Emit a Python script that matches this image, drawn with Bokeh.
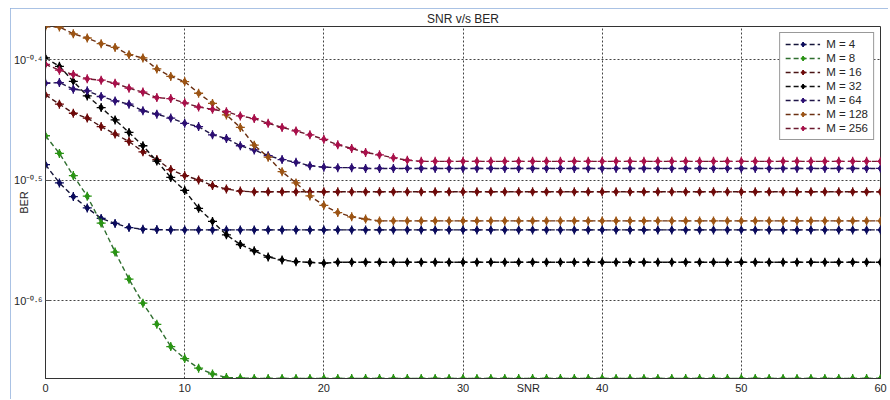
from bokeh.plotting import figure
from bokeh.models import Range1d, FixedTicker, Legend, LegendItem
from bokeh.embed import file_html
from bokeh.resources import INLINE

# ---------------- data ----------------
snr = list(range(0, 61))

ber_m4 = [0.3257, 0.3146, 0.3065, 0.2999, 0.2940, 0.2912, 0.2889, 0.2880, 0.2878, 0.2876,
          0.2876, 0.2876, 0.2876, 0.2876, 0.2876, 0.2876, 0.2876, 0.2876, 0.2876, 0.2876,
          0.2876, 0.2876, 0.2876, 0.2876, 0.2876, 0.2876, 0.2876, 0.2876, 0.2876, 0.2876,
          0.2876, 0.2876, 0.2876, 0.2876, 0.2876, 0.2876, 0.2876, 0.2876, 0.2876, 0.2876,
          0.2876, 0.2876, 0.2876, 0.2876, 0.2876, 0.2876, 0.2876, 0.2876, 0.2876, 0.2876,
          0.2876, 0.2876, 0.2876, 0.2876, 0.2876, 0.2876, 0.2876, 0.2876, 0.2876, 0.2876,
          0.2876]
ber_m8 = [0.3442, 0.3328, 0.3190, 0.3067, 0.2914, 0.2757, 0.2618, 0.2501, 0.2402, 0.2302,
          0.2250, 0.2209, 0.2185, 0.2170, 0.2168, 0.2166, 0.2166, 0.2166, 0.2166, 0.2166,
          0.2166, 0.2166, 0.2166, 0.2166, 0.2166, 0.2166, 0.2166, 0.2166, 0.2166, 0.2166,
          0.2166, 0.2166, 0.2166, 0.2166, 0.2166, 0.2166, 0.2166, 0.2166, 0.2166, 0.2166,
          0.2166, 0.2166, 0.2166, 0.2166, 0.2166, 0.2166, 0.2166, 0.2166, 0.2166, 0.2166,
          0.2166, 0.2166, 0.2166, 0.2166, 0.2166, 0.2166, 0.2166, 0.2166, 0.2166, 0.2166,
          0.2166]
ber_m16 = [0.3721, 0.3656, 0.3593, 0.3560, 0.3503, 0.3453, 0.3405, 0.3338, 0.3289, 0.3227,
           0.3190, 0.3164, 0.3130, 0.3110, 0.3097, 0.3093, 0.3093, 0.3093, 0.3093, 0.3093,
           0.3093, 0.3093, 0.3093, 0.3093, 0.3093, 0.3093, 0.3093, 0.3093, 0.3093, 0.3093,
           0.3093, 0.3093, 0.3093, 0.3093, 0.3093, 0.3093, 0.3093, 0.3093, 0.3093, 0.3093,
           0.3093, 0.3093, 0.3093, 0.3093, 0.3093, 0.3093, 0.3093, 0.3093, 0.3093, 0.3093,
           0.3093, 0.3093, 0.3093, 0.3093, 0.3093, 0.3093, 0.3093, 0.3093, 0.3093, 0.3093,
           0.3093]
ber_m32 = [0.3993, 0.3930, 0.3819, 0.3714, 0.3632, 0.3548, 0.3464, 0.3377, 0.3280, 0.3179,
           0.3101, 0.2997, 0.2923, 0.2849, 0.2797, 0.2764, 0.2731, 0.2716, 0.2707, 0.2703,
           0.2699, 0.2704, 0.2704, 0.2704, 0.2704, 0.2704, 0.2704, 0.2704, 0.2704, 0.2704,
           0.2704, 0.2704, 0.2704, 0.2704, 0.2704, 0.2704, 0.2704, 0.2704, 0.2704, 0.2704,
           0.2704, 0.2704, 0.2704, 0.2704, 0.2704, 0.2704, 0.2704, 0.2704, 0.2704, 0.2704,
           0.2704, 0.2704, 0.2704, 0.2704, 0.2704, 0.2704, 0.2704, 0.2704, 0.2704, 0.2704,
           0.2704]
ber_m64 = [0.3805, 0.3810, 0.3762, 0.3750, 0.3710, 0.3679, 0.3656, 0.3610, 0.3587, 0.3560,
           0.3525, 0.3503, 0.3448, 0.3424, 0.3377, 0.3350, 0.3314, 0.3289, 0.3272, 0.3251,
           0.3242, 0.3239, 0.3239, 0.3234, 0.3234, 0.3234, 0.3234, 0.3234, 0.3234, 0.3234,
           0.3234, 0.3234, 0.3234, 0.3234, 0.3234, 0.3234, 0.3234, 0.3234, 0.3234, 0.3234,
           0.3234, 0.3234, 0.3234, 0.3234, 0.3234, 0.3234, 0.3234, 0.3234, 0.3234, 0.3234,
           0.3234, 0.3234, 0.3234, 0.3234, 0.3234, 0.3234, 0.3234, 0.3234, 0.3234, 0.3234,
           0.3234]
ber_m128 = [0.4240, 0.4236, 0.4181, 0.4148, 0.4103, 0.4074, 0.4018, 0.3993, 0.3910, 0.3855,
            0.3817, 0.3733, 0.3661, 0.3582, 0.3497, 0.3381, 0.3304, 0.3214, 0.3146, 0.3069,
            0.3014, 0.2973, 0.2949, 0.2936, 0.2926, 0.2926, 0.2926, 0.2926, 0.2926, 0.2926,
            0.2926, 0.2926, 0.2926, 0.2926, 0.2926, 0.2926, 0.2926, 0.2926, 0.2926, 0.2926,
            0.2926, 0.2926, 0.2926, 0.2926, 0.2926, 0.2926, 0.2926, 0.2926, 0.2926, 0.2926,
            0.2926, 0.2926, 0.2926, 0.2926, 0.2926, 0.2926, 0.2926, 0.2926, 0.2926, 0.2926,
            0.2926]
ber_m256 = [0.3944, 0.3901, 0.3869, 0.3837, 0.3827, 0.3805, 0.3769, 0.3741, 0.3702, 0.3695,
            0.3665, 0.3636, 0.3620, 0.3604, 0.3575, 0.3557, 0.3525, 0.3497, 0.3474, 0.3448,
            0.3419, 0.3383, 0.3360, 0.3334, 0.3319, 0.3300, 0.3285, 0.3278, 0.3278, 0.3278,
            0.3278, 0.3278, 0.3278, 0.3278, 0.3278, 0.3278, 0.3278, 0.3278, 0.3278, 0.3278,
            0.3278, 0.3278, 0.3278, 0.3278, 0.3278, 0.3278, 0.3278, 0.3278, 0.3278, 0.3278,
            0.3278, 0.3278, 0.3278, 0.3278, 0.3278, 0.3278, 0.3278, 0.3278, 0.3278, 0.3278,
            0.3278]

series_labels = ["M = 4", "M = 8", "M = 16", "M = 32", "M = 64", "M = 128", "M = 256"]
series_values = [ber_m4, ber_m8, ber_m16, ber_m32, ber_m64, ber_m128, ber_m256]
line_colors = ["#15153a", "#2f6e2f", "#4a1414", "#111111", "#1f1548", "#6b3012", "#6b1a2e"]
marker_colors = ["#0b0b5c", "#2a9414", "#6e0a0a", "#000000", "#2c0f73", "#9c5414", "#a8104a"]

xticks = [0, 10, 20, 30, 40, 50, 60]
ytick_exponents = [-0.6, -0.5, -0.4]
ytick_labels = ["10\u207b\u2070\u00b7\u2076", "10\u207b\u2070\u00b7\u2075", "10\u207b\u2070\u00b7\u2074"]
yticks = [10 ** e for e in ytick_exponents]

title_text = "SNR v/s BER"
xlabel_text = "SNR"
ylabel_text = "BER"
xlabel_at = 34.7   # where the x label sits along the axis in the reference

# ---------------- figure ----------------
all_vals = [v for s in series_values for v in s]
ymin, ymax = min(all_vals), max(all_vals)

FONT = "Liberation Sans"
TXT = "#262626"

p = figure(width=878, height=391,
           x_range=Range1d(snr[0], snr[-1]), y_range=Range1d(ymin, ymax),
           y_axis_type="log", output_backend="svg", toolbar_location=None,
           min_border_left=35, min_border_right=8, min_border_top=17, min_border_bottom=21)
p.styles = {"margin-left": "10px", "margin-top": "8px",
            "outline": "2px solid #8eaedb", "outline-offset": "-2px"}
p.background_fill_color = "white"
p.border_fill_color = "white"
p.outline_line_color = "#333333"
p.outline_line_width = 1

# title
p.title.text = title_text
p.title.align = "center"
p.title.offset = 5
p.title.standoff = 2
p.title.text_font = FONT
p.title.text_font_size = "12px"
p.title.text_font_style = "normal"
p.title.text_color = TXT

# x axis
xa = p.xaxis[0]
xa.ticker = FixedTicker(ticks=xticks + [xlabel_at])
xa.major_label_overrides = {xlabel_at: xlabel_text}
xa.major_tick_in = 0
xa.major_tick_out = 0
xa.minor_tick_line_color = None
xa.major_label_standoff = 3
xa.major_label_text_font = FONT
xa.major_label_text_font_size = "11px"
xa.major_label_text_color = TXT
xa.axis_line_color = "#333333"

# y axis
ya = p.yaxis[0]
ya.ticker = FixedTicker(ticks=yticks)
ya.major_label_overrides = {t: s for t, s in zip(yticks, ytick_labels)}
ya.major_tick_in = 5
ya.major_tick_out = 0
ya.major_tick_line_color = "#555555"
ya.minor_tick_line_color = None
ya.major_label_standoff = 3
ya.major_label_text_font = FONT
ya.major_label_text_font_size = "11px"
ya.major_label_text_color = TXT
ya.axis_line_color = "#333333"
ya.axis_label = ylabel_text
ya.axis_label_standoff = -19
ya.axis_label_text_font = FONT
ya.axis_label_text_font_size = "11px"
ya.axis_label_text_font_style = "normal"
ya.axis_label_text_color = TXT

# grid
p.xgrid.ticker = FixedTicker(ticks=xticks)
p.ygrid.ticker = FixedTicker(ticks=yticks)
for g in (p.xgrid, p.ygrid):
    g.grid_line_color = "#444444"
    g.grid_line_dash = "2 2"
    g.grid_line_width = 1

items = []
for lab, vals, lc, mc in zip(series_labels, series_values, line_colors, marker_colors):
    rl = p.line(snr, vals, line_color=lc, line_width=1.4, line_dash="5 3")
    rd = p.scatter(snr, vals, marker="diamond", size=7, fill_color=mc, line_color=mc)
    rc = p.scatter(snr, vals, marker="cross", size=9, line_color=mc, line_width=1.3)
    items.append(LegendItem(label=lab, renderers=[rl, rd, rc]))

legend = Legend(items=items, location="top_right", margin=6, padding=5, spacing=2,
                glyph_width=35, glyph_height=12, label_height=12, label_standoff=6,
                label_text_font=FONT, label_text_font_size="11.5px", label_text_color=TXT,
                border_line_color="#333333", border_line_width=1,
                background_fill_color="white", background_fill_alpha=1.0)
p.add_layout(legend)

open("out.html", "w").write(file_html(p, INLINE))
